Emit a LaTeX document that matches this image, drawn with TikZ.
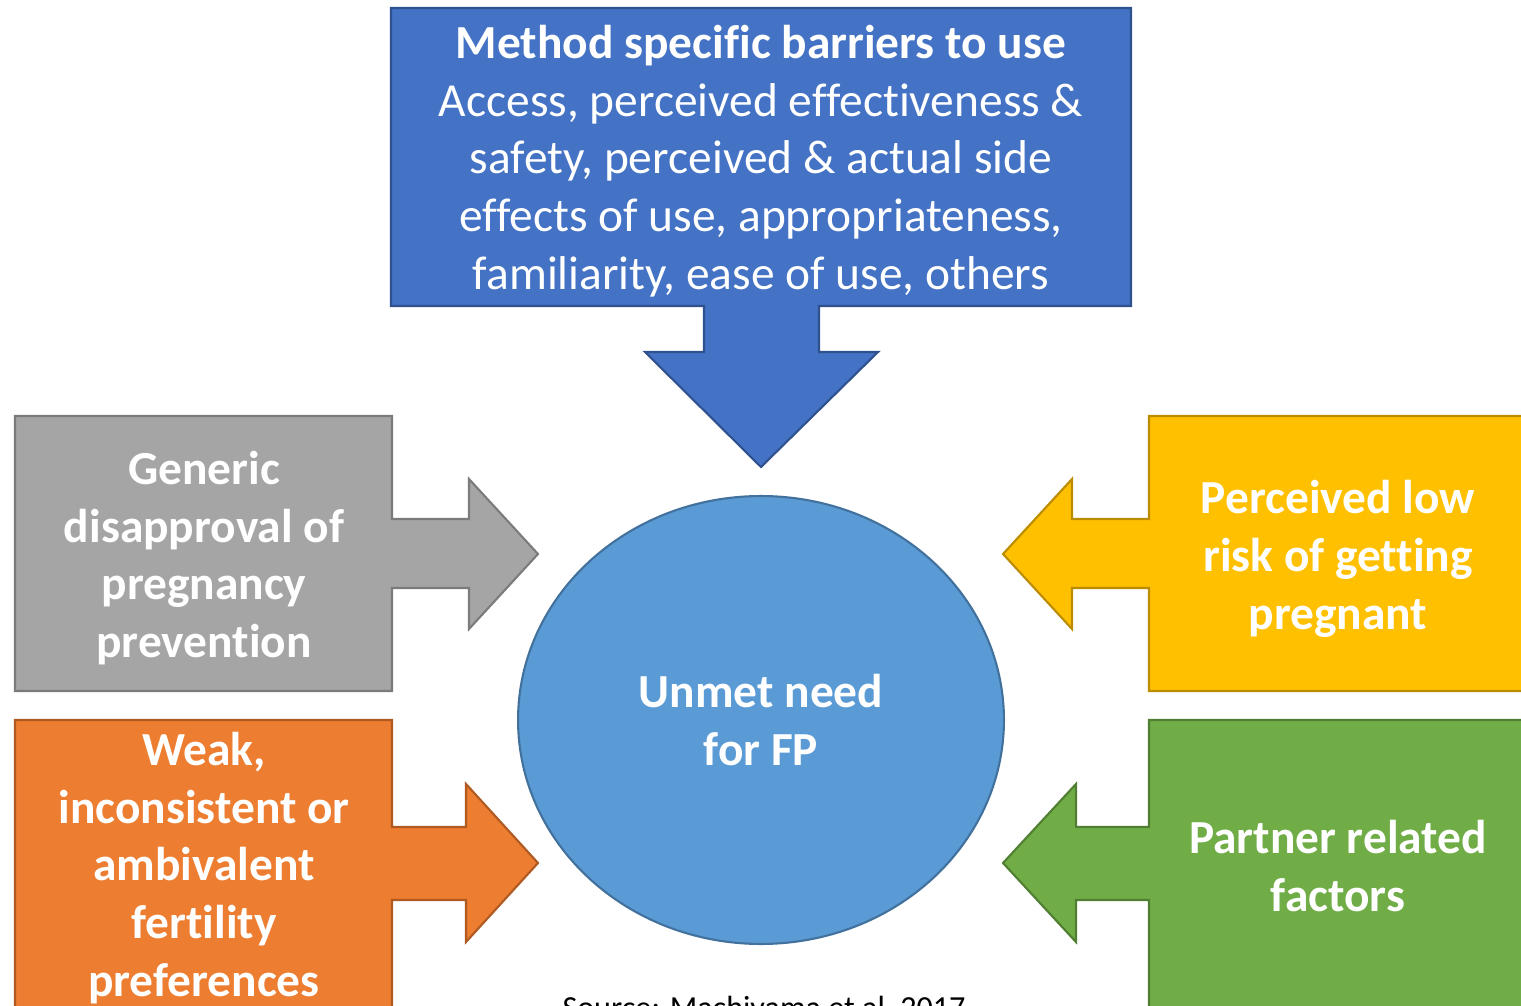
\documentclass[tikz,border=0pt]{standalone}
\usepackage{fontspec}
\setmainfont[Ligatures=NoCommon]{Carlito}
\usepackage{tikz}
\usetikzlibrary{shapes.geometric, positioning}
\definecolor{fpblue}{HTML}{4472C4}
\definecolor{fpblueline}{HTML}{2F528F}
\definecolor{fpgray}{HTML}{A5A5A5}
\definecolor{fpgrayline}{HTML}{7B7B7B}
\definecolor{fporange}{HTML}{ED7D31}
\definecolor{fporangeline}{HTML}{AE5A21}
\definecolor{fpyellow}{HTML}{FFC000}
\definecolor{fpyellowline}{HTML}{BC8C00}
\definecolor{fpgreen}{HTML}{70AD47}
\definecolor{fpgreenline}{HTML}{507E32}
\definecolor{fpcircle}{HTML}{5B9BD5}
\definecolor{fpcircleline}{HTML}{41719C}

\begin{document}
\begin{tikzpicture}[x=0.02cm, y=-0.02cm,
    callout/.style={line width=1.2pt, line join=miter},
    boldtext/.style={text=white, align=center, font=\fontsize{27}{32.9}\selectfont\bfseries},
    plaintext/.style={text=white, align=center, font=\fontsize{27}{32.9}\selectfont}]
    \useasboundingbox (0,0) rectangle (1521,1006);
    % Define the callout shapes
    \draw[callout, fill=fpblue, draw=fpblueline] (391,8) -- (1131,8) -- (1131,306) -- (819,306) -- (819,352) -- (878,352) -- (761,467) -- (645,352) -- (704,352) -- (704,306) -- (391,306) -- cycle;
    \draw[callout, fill=fpgray, draw=fpgrayline] (15,416) -- (392,416) -- (392,519) -- (469,519) -- (469,479) -- (538,554) -- (469,629) -- (469,588) -- (392,588) -- (392,691) -- (15,691) -- cycle;
    \draw[callout, fill=fporange, draw=fporangeline] (15,720) -- (392,720) -- (392,827) -- (466,827) -- (466,784) -- (538,863) -- (466,942) -- (466,900) -- (392,900) -- (392,1030) -- (15,1030) -- cycle;
    \draw[callout, fill=fpyellow, draw=fpyellowline] (1149,416) -- (1540,416) -- (1540,691) -- (1149,691) -- (1149,588) -- (1072,588) -- (1072,629) -- (1003,554) -- (1072,479) -- (1072,519) -- (1149,519) -- cycle;
    \draw[callout, fill=fpgreen, draw=fpgreenline] (1149,720) -- (1540,720) -- (1540,1030) -- (1149,1030) -- (1149,900) -- (1076,900) -- (1076,942) -- (1003,863) -- (1076,784) -- (1076,827) -- (1149,827) -- cycle;
    % Define the central need
    \node (need) [draw=fpcircleline, fill=fpcircle, ellipse, line width=1.2pt, minimum width=9.72cm, minimum height=8.96cm] at (761,720) {};
    \node (needtext) [boldtext] at (761,720) {Unmet need\\for FP};
    % Define the texts of the callouts
    \node (method) [plaintext] at (761,161) {\textbf{Method specific barriers to use}\\Access, perceived effectiveness \&\\safety, perceived \& actual side\\effects of use, appropriateness,\\familiarity, ease of use, others};
    \node (generic) [boldtext] at (204,558) {Generic\\disapproval of\\pregnancy\\prevention};
    \node (weak) [boldtext] at (204,868) {Weak,\\inconsistent or\\ambivalent\\fertility\\preferences};
    \node (risk) [boldtext] at (1338,559) {Perceived low\\risk of getting\\pregnant};
    \node (partner) [boldtext] at (1338,866) {Partner related\\factors};
    \node (source) [font=\fontsize{18.3}{22}\selectfont] at (764,1010) {Source: Machiyama et al, 2017};
\end{tikzpicture}
\end{document}
